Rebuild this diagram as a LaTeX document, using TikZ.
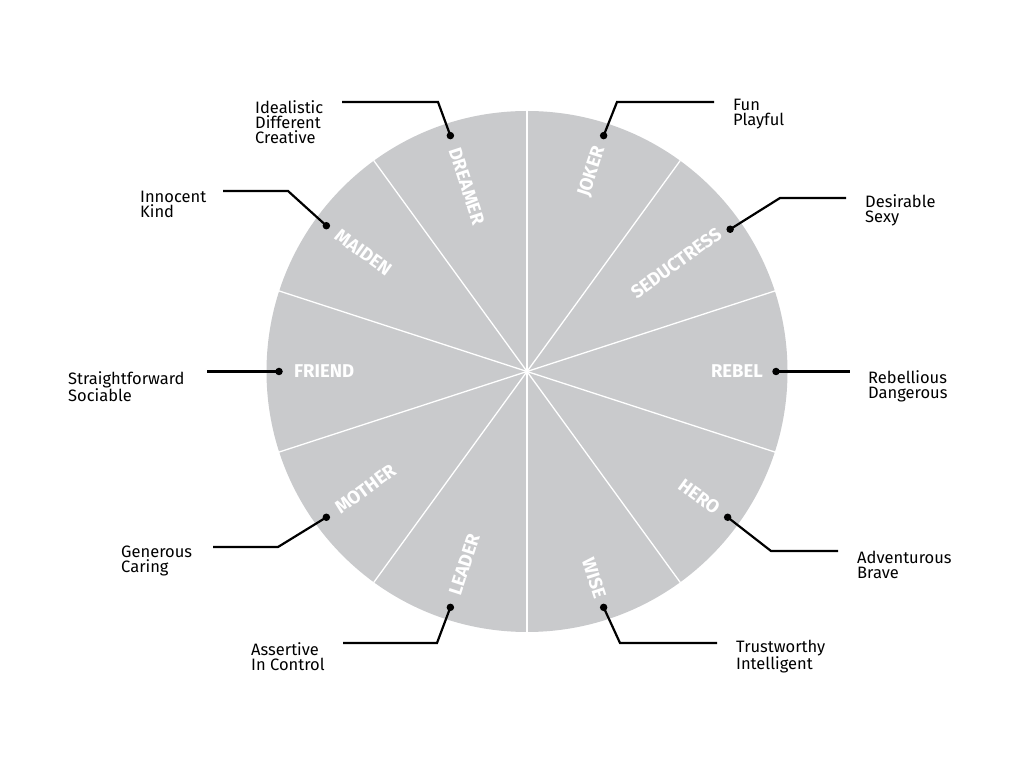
\documentclass[tikz,border=0pt]{standalone}
\usepackage{fontspec}
\setmainfont{Fira Sans}
\usetikzlibrary{calc}
\definecolor{wheelgray}{RGB}{201,202,204}
\tikzset{
  dot/.style={circle,fill=black,inner sep=0pt,minimum size=7.5pt},
  conn/.style={draw=black,line width=2.2pt,line join=miter},
  desc/.style={anchor=west,align=left,inner sep=0pt,font=\fontsize{16.5}{15}\selectfont},
  seclabel/.style={inner sep=0pt,text=white,font=\fontsize{18.5}{20}\selectfont\bfseries},
  divider/.style={draw=white,line width=1.3pt}
}
\begin{document}
\begin{tikzpicture}[x=1pt,y=1pt]
\useasboundingbox (0,0) rectangle (1024,768);
\coordinate (c) at (527,396.5);
\fill[wheelgray] (c) circle (260.5);
\foreach \a in {90,54,18,-18,-54,-90,234,198,162,126}
  \draw[divider] (c) -- ($(c)+(\a:261)$);
% sector labels (right half)
\node[seclabel,rotate=72,anchor=east]  (lJ) at ($(c)+(72:236)$) {JOKER};
\node[seclabel,rotate=36,anchor=east]  (lS) at ($(c)+(36:238)$) {SEDUCTRESS};
\node[seclabel,rotate=0,anchor=east]   (lR) at ($(c)+(0:236)$) {REBEL};
\node[seclabel,rotate=-36,anchor=east] (lH) at ($(c)+(-36:236)$) {HERO};
\node[seclabel,rotate=-72,anchor=east] (lW) at ($(c)+(-72:238)$) {WISE};
% sector labels (left half)
\node[seclabel,rotate=-72,anchor=west] (lD) at ($(c)+(108:235)$) {DREAMER};
\node[seclabel,rotate=-36,anchor=west] (lM) at ($(c)+(144:235)$) {MAIDEN};
\node[seclabel,rotate=0,anchor=west]   (lF) at ($(c)+(180:233)$) {FRIEND};
\node[seclabel,rotate=36,anchor=west]  (lO) at ($(c)+(216:235)$) {MOTHER};
\node[seclabel,rotate=72,anchor=west]  (lL) at ($(c)+(252:235)$) {LEADER};
% dots
\node[dot] (dJ) at ($(c)+(72:248)$) {};
\node[dot] (dS) at ($(c)+(35:248)$) {};
\node[dot] (dR) at ($(c)+(0:249)$) {};
\node[dot] (dH) at ($(c)+(-36:248)$) {};
\node[dot] (dW) at ($(c)+(-72:248)$) {};
\node[dot] (dD) at ($(c)+(108:248)$) {};
\node[dot] (dM) at ($(c)+(144:248)$) {};
\node[dot] (dF) at ($(c)+(180:248)$) {};
\node[dot] (dO) at ($(c)+(216:248)$) {};
\node[dot] (dL) at ($(c)+(252:248)$) {};
% bends and ends
\coordinate (bJ) at (617,666); \coordinate (eJ) at (714,666);
\coordinate (bS) at (780,570); \coordinate (eS) at (846,570);
\coordinate (eR) at (850,396.5);
\coordinate (bH) at (771,217); \coordinate (eH) at (838,217);
\coordinate (bW) at (620,125); \coordinate (eW) at (717,125);
\coordinate (bD) at (438,666); \coordinate (eD) at (342,666);
\coordinate (bM) at (288,577); \coordinate (eM) at (223,577);
\coordinate (eF) at (207,396.5);
\coordinate (bO) at (278,221); \coordinate (eO) at (213,221);
\coordinate (bL) at (437,125); \coordinate (eL) at (343,125);
\draw[conn] (dJ.center) -- (bJ) -- (eJ);
\draw[conn] (dS.center) -- (bS) -- (eS);
\draw[conn] (dR.center) -- (eR);
\draw[conn] (dH.center) -- (bH) -- (eH);
\draw[conn] (dW.center) -- (bW) -- (eW);
\draw[conn] (dD.center) -- (bD) -- (eD);
\draw[conn] (dM.center) -- (bM) -- (eM);
\draw[conn] (dF.center) -- (eF);
\draw[conn] (dO.center) -- (bO) -- (eO);
\draw[conn] (dL.center) -- (bL) -- (eL);
% descriptions
\node[desc] (tJ) at (733,653.5) {Fun\\Playful};
\node[desc] (tS) at (865,558) {Desirable\\Sexy};
\node[desc] (tR) at (868,381.5) {Rebellious\\Dangerous};
\node[desc] (tH) at (857,203.5) {Adventurous\\Brave};
\node[desc] (tW) at (736,111.5) {Trustworthy\\Intelligent};
\node[desc] (tD) at (255,646) {Idealistic\\Different\\Creative};
\node[desc] (tM) at (140,564) {Innocent\\Kind};
\node[desc] (tF) at (68,381.5) {Straightforward\\Sociable};
\node[desc] (tO) at (121,207.5) {Generous\\Caring};
\node[desc] (tL) at (251,111.5) {Assertive\\In Control};
\end{tikzpicture}
\end{document}
